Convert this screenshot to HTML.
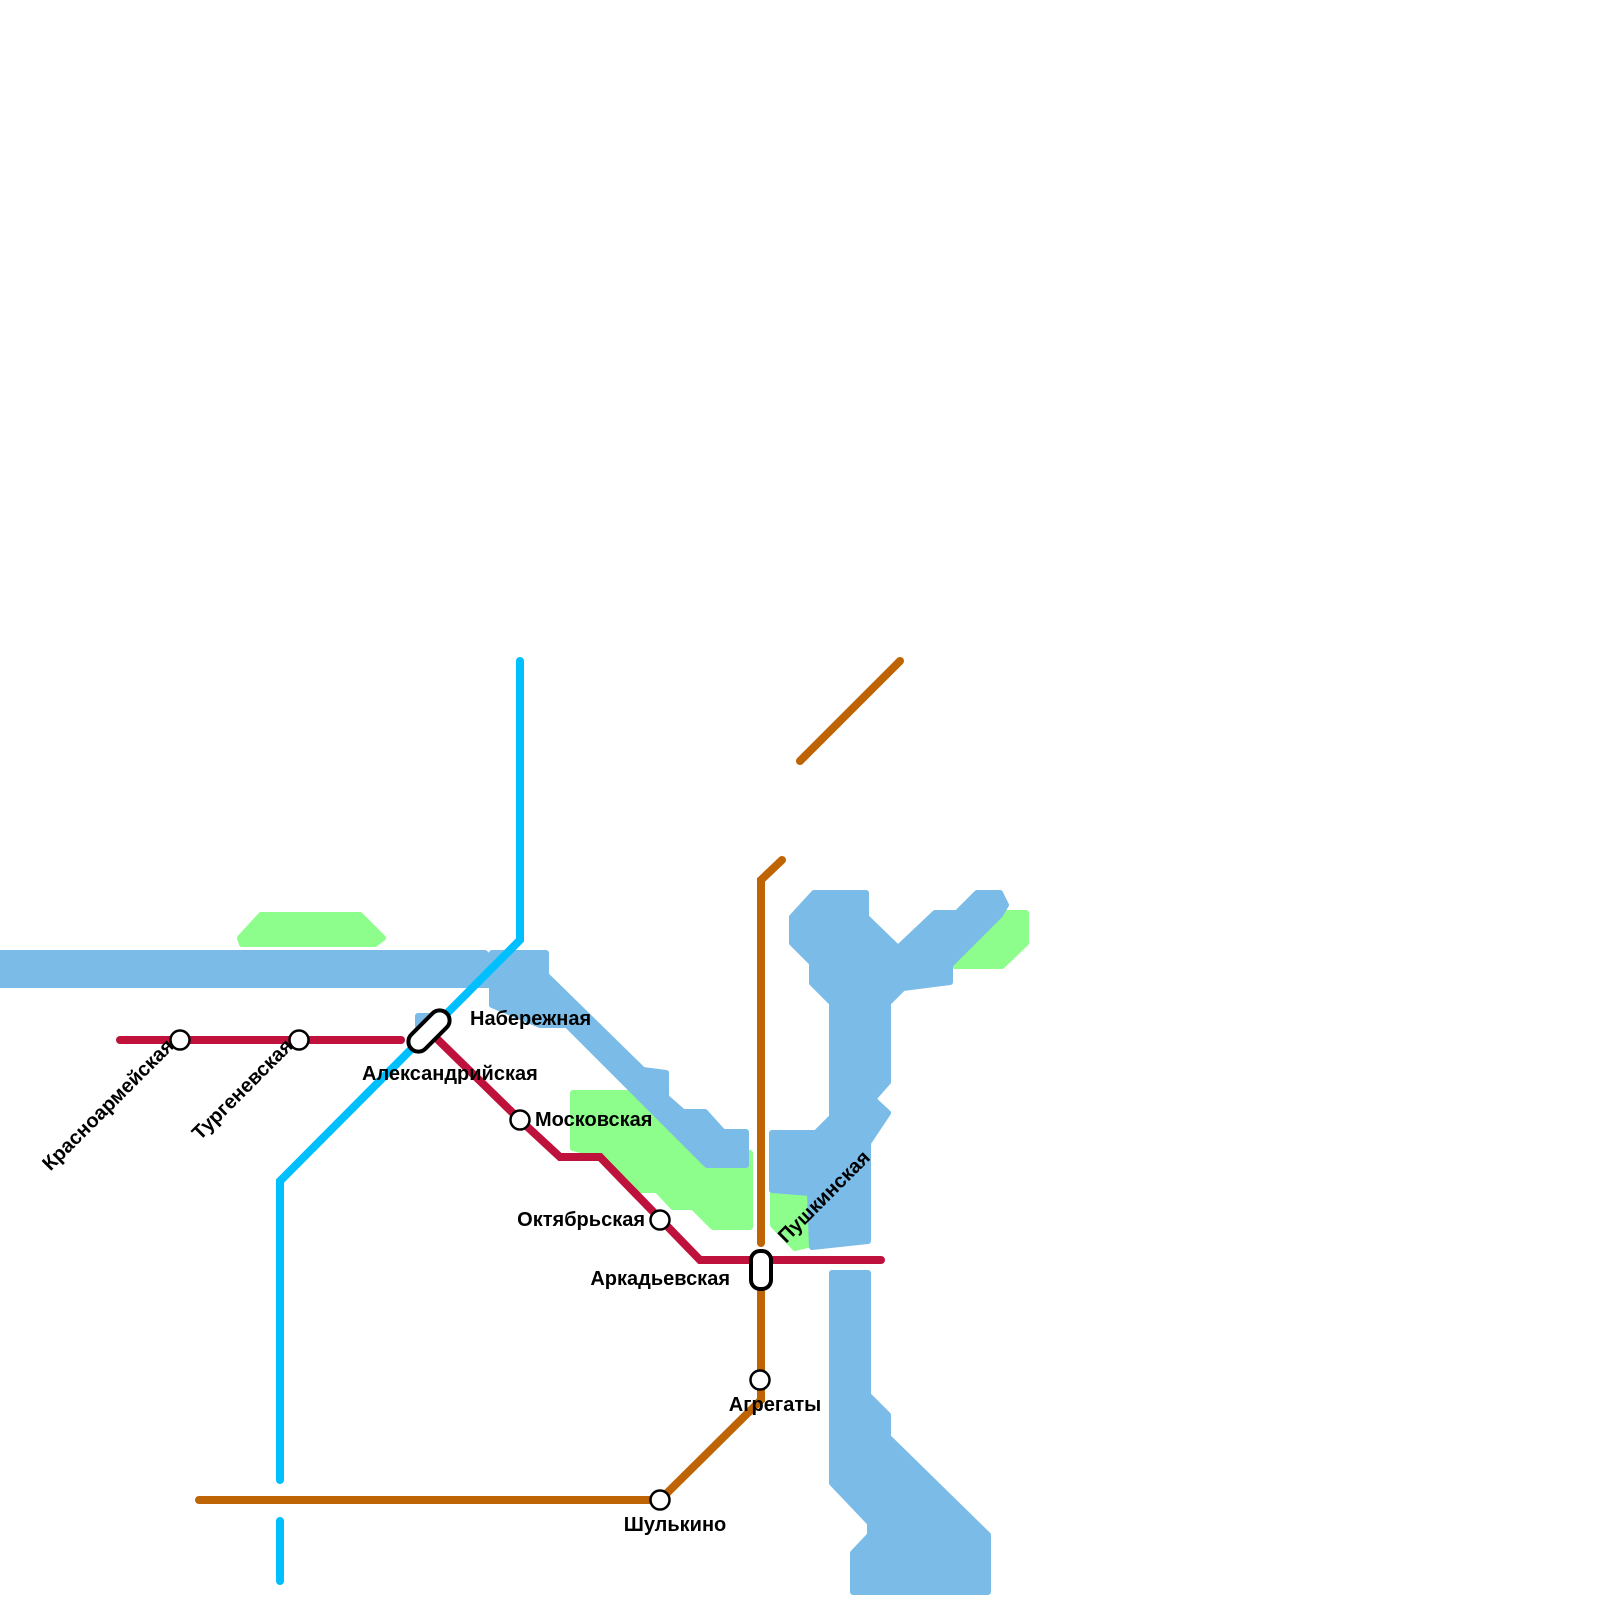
<!DOCTYPE html>
<html><head><meta charset="utf-8"><style>
html,body{margin:0;padding:0;background:#fff}
svg{display:block}
text{font-family:"Liberation Sans",sans-serif;font-weight:bold;font-size:20px;fill:#000}
</style></head><body>
<svg width="1600" height="1600" viewBox="0 0 1600 1600" xmlns="http://www.w3.org/2000/svg">
<g fill="#8dfd8b" stroke="#8dfd8b" stroke-width="6" stroke-linejoin="round">
<polygon points="240,938 261,915 360,915 383,938 375,944 242,944"/>
<polygon points="573,1115 573,1093 627,1093 707,1153 750,1153 750,1227 713,1227 693,1207 673,1207 657,1190 633,1190 600,1155 573,1148"/>
<polygon points="773,1193 805,1193 808,1245 795,1248 773,1225"/>
<polygon points="953,960 999,913 1026,913 1026,943 1002,966 955,966"/>
</g>
<g fill="#7abce7" stroke="#7abce7" stroke-width="6" stroke-linejoin="round">
<polygon points="0,953 485,953 492,960 492,985 0,985"/>
<polygon points="492,953 546,953 546,975 643,1070 666,1073 666,1097 683,1112 705,1112 723,1132 746,1132 746,1165 707,1165 567,1025 540,1025 492,1005"/>
<polygon points="792,917 814,893 866,893 866,917 898,948 935,913 957,913 977,893 1000,893 1006,905 1000,915 950,965 950,982 903,988 888,1003 888,1082 873,1099 888,1113 868,1143 868,1241 812,1247 810,1193 772,1190 772,1133 816,1133 832,1117 832,1003 812,983 812,963 792,943"/>
<polygon points="832,1273 868,1273 868,1395 888,1415 888,1437 988,1535 988,1592 853,1592 853,1553 870,1535 870,1523 832,1483"/>
<rect x="418" y="1016" width="12" height="10"/>
</g>
<g fill="none" stroke-width="8" stroke-linecap="round" stroke-linejoin="miter">
<polyline stroke="#00bfff" points="520,661 520,940 280,1181 280,1480"/>
<polyline stroke="#00bfff" points="280,1521 280,1581"/>
<polyline stroke="#be123c" points="120,1040 401,1040"/>
<polyline stroke="#be123c" points="429,1031 520,1120 560,1157 600,1157 700,1260 881,1260"/>
<polyline stroke="#bf6405" points="900,661 800,761"/>
<polyline stroke="#bf6405" points="782,860 761,880 761,1243"/>
<polyline stroke="#bf6405" points="761,1292 761,1400 660,1500 199,1500"/>
</g>
<g fill="#fff" stroke="#000" stroke-width="2.5">
<circle cx="180" cy="1040" r="9.5"/>
<circle cx="299" cy="1040" r="9.5"/>
<circle cx="520" cy="1120" r="9.5"/>
<circle cx="660" cy="1220" r="9.5"/>
<circle cx="760" cy="1380" r="9.5"/>
<circle cx="660" cy="1500" r="9.5"/>
</g>
<g fill="#fff" stroke="#000" stroke-width="4">
<rect x="404" y="1021" width="50" height="20" rx="10" transform="rotate(-45 429 1031)"/>
<rect x="751" y="1251" width="20" height="38" rx="9"/>
</g>
<text x="470" y="1025">Набережная</text>
<text x="362" y="1080">Александрийская</text>
<text x="535" y="1126">Московская</text>
<text x="645" y="1226" text-anchor="end">Октябрьская</text>
<text x="730" y="1285" text-anchor="end">Аркадьевская</text>
<text x="775" y="1411" text-anchor="middle">Агрегаты</text>
<text x="675" y="1531" text-anchor="middle">Шулькино</text>
<text transform="translate(786,1244) rotate(-45)">Пушкинская</text>
<text transform="translate(175,1047) rotate(-45)" text-anchor="end">Красноармейская</text>
<text transform="translate(294,1047) rotate(-45)" text-anchor="end">Тургеневская</text>
</svg>
</body></html>
